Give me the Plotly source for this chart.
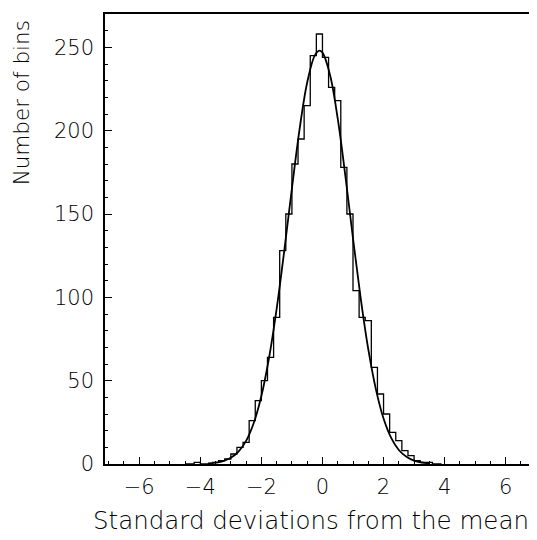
import plotly.graph_objects as go

# histogram bin centres (width 0.2) and counts
bin_centres = [-4.5, -4.3, -4.1, -3.9, -3.7, -3.5, -3.3, -3.1, -2.9, -2.7, -2.5, -2.3,
               -2.1, -1.9, -1.7, -1.5, -1.3, -1.1, -0.9, -0.7, -0.5, -0.3, -0.1,
               0.1, 0.3, 0.5, 0.7, 0.9, 1.1, 1.3, 1.5, 1.7, 1.9, 2.1, 2.3,
               2.5, 2.7, 2.9, 3.1, 3.3, 3.5, 3.7, 3.9]
bin_counts = [0, 0, 1, 0, 0, 1, 2, 3, 6, 10, 13, 26,
              38, 50, 64, 88, 128, 150, 180, 195, 215, 245, 258,
              244, 226, 218, 178, 150, 104, 88, 86, 58, 42, 30, 19,
              14, 8, 5, 2, 1, 1, 0, 0]

# fitted gaussian curve
curve_x = [-3.75, -3.5, -3.25, -3.0, -2.75, -2.5, -2.25, -2.0, -1.75, -1.5, -1.25,
           -1.0, -0.75, -0.5, -0.25, -0.1, 0.0, 0.25, 0.5, 0.75, 1.0, 1.25,
           1.5, 1.75, 2.0, 2.25, 2.5, 2.75, 3.0, 3.25, 3.5]
curve_y = [0.3, 0.8, 1.7, 3.7, 7.4, 13.9, 24.6, 40.8, 63.6, 93.1, 128.0,
           165.4, 200.8, 228.9, 245.2, 248.0, 246.8, 233.3, 207.2, 172.9, 135.4, 99.7,
           68.9, 44.8, 27.3, 15.7, 8.4, 4.3, 2.0, 0.9, 0.4]

x_ticks = [-6, -4, -2, 0, 2, 4, 6]
x_labels = ["\u22126", "\u22124", "\u22122", "0", "2", "4", "6"]
y_ticks = [0, 50, 100, 150, 200, 250]

fig = go.Figure()
fig.add_trace(go.Scatter(x=bin_centres, y=bin_counts, mode="lines",
                         line=dict(shape="hvh", color="black", width=1.3),
                         hoverinfo="skip"))
fig.add_trace(go.Scatter(x=curve_x, y=curve_y, mode="lines",
                         line=dict(shape="spline", color="black", width=1.8),
                         hoverinfo="skip"))

tick_font = dict(family="DejaVu Sans, sans-serif", size=21, color="black", weight=300)

fig.update_layout(
    width=537, height=540,
    margin=dict(l=97, r=4, t=5, b=84),
    paper_bgcolor="white", plot_bgcolor="white",
    showlegend=False,
    font=dict(family="DejaVu Sans, sans-serif", color="black"),
)
fig.update_xaxes(
    range=[-7.12, 7.09], tickvals=x_ticks, ticktext=x_labels,
    ticks="inside", ticklen=7, tickwidth=1, tickcolor="black",
    minor=dict(dtick=0.5, ticks="inside", ticklen=3, tickcolor="black"),
    showline=True, linecolor="black", linewidth=1.5, mirror=True,
    showgrid=False, zeroline=False, tickfont=tick_font, ticklabelstandoff=3,
)
fig.update_yaxes(
    range=[0, 270], tickvals=y_ticks,
    ticks="inside", ticklen=7, tickwidth=1, tickcolor="black",
    minor=dict(dtick=10, ticks="inside", ticklen=3, tickcolor="black"),
    showline=True, linecolor="black", linewidth=1.5, mirror=True,
    showgrid=False, zeroline=False, tickfont=tick_font, ticklabelstandoff=5,
)

# axis titles placed where the original has them
fig.add_annotation(text="Standard deviations from the mean", xref="paper", yref="paper",
                   x=0.474, y=-0.125, xanchor="center", yanchor="middle", showarrow=False,
                   font=dict(family="DejaVu Sans, sans-serif", size=24.5, color="black", weight=300))
fig.add_annotation(text="Number of bins", xref="paper", yref="paper",
                   x=-0.193, y=0.802, xanchor="center", yanchor="middle", showarrow=False,
                   textangle=-90,
                   font=dict(family="DejaVu Sans, sans-serif", size=21.5, color="black", weight=300))

fig.write_html("out.html")
